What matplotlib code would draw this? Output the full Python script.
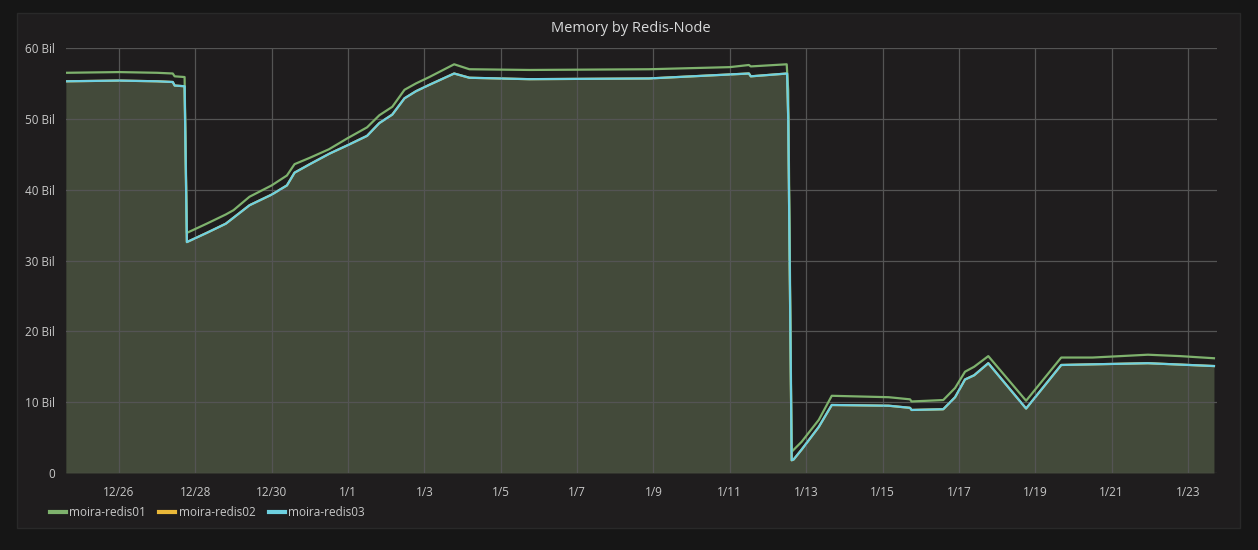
import numpy as np
import matplotlib.pyplot as plt
from matplotlib.patches import Rectangle

# days counted from 12/26 00:00
days01 = [-1.39, 0.0, 1.0, 1.41, 1.46, 1.72, 1.78, 2.3, 2.8, 3.0, 3.42, 4.0, 4.4, 4.6, 5.0, 5.5, 6.0, 6.5,
          6.82, 7.16, 7.48, 7.78, 8.13, 8.78, 9.18, 10.75, 13.88, 16.0, 16.50, 16.55, 17.49, 17.53, 17.62,
          17.88, 18.33, 18.67, 20.16, 20.72, 20.76, 21.59, 21.9, 22.16, 22.4, 22.77, 23.76, 24.68, 25.5,
          26.95, 27.8, 28.68]
redis01 = [56.5, 56.6, 56.5, 56.4, 56.0, 55.9, 33.9, 35.2, 36.5, 37.1, 39.0, 40.6, 42.0, 43.6, 44.5, 45.7,
           47.3, 48.8, 50.5, 51.7, 54.1, 55.0, 55.9, 57.7, 57.0, 56.9, 57.0, 57.3, 57.6, 57.4, 57.7, 54.0,
           3.0, 4.4, 7.5, 10.9, 10.7, 10.4, 10.1, 10.3, 12.0, 14.3, 15.0, 16.5, 10.2, 16.3, 16.3, 16.7,
           16.5, 16.2]

days03 = [-1.39, 0.0, 1.0, 1.41, 1.46, 1.72, 1.78, 2.3, 2.8, 3.42, 4.0, 4.4, 4.6, 5.0, 5.52, 6.0, 6.5, 6.82,
          7.16, 7.48, 7.78, 8.13, 8.78, 9.18, 10.75, 13.88, 16.50, 16.55, 17.50, 17.53, 17.62, 17.67,
          17.88, 18.33, 18.67, 20.16, 20.72, 20.76, 21.59, 21.9, 22.16, 22.4, 22.77, 23.76, 24.68, 26.95,
          28.68]
redis03 = [55.3, 55.4, 55.3, 55.2, 54.7, 54.6, 32.6, 33.9, 35.2, 37.8, 39.3, 40.6, 42.4, 43.6, 45.1, 46.3,
           47.6, 49.4, 50.6, 52.9, 53.9, 54.8, 56.4, 55.8, 55.6, 55.7, 56.4, 56.0, 56.4, 50.0, 1.8, 1.9,
           3.3, 6.5, 9.6, 9.5, 9.2, 8.9, 9.0, 10.7, 13.2, 13.8, 15.5, 9.1, 15.25, 15.5, 15.1]

# redis02 sits under redis03 everywhere
days02 = days03
redis02 = redis03

tick_days = [0, 2, 4, 6, 8, 10, 12, 14, 16, 18, 20, 22, 24, 26, 28]
tick_labels = ["12/26", "12/28", "12/30", "1/1", "1/3", "1/5", "1/7", "1/9", "1/11",
               "1/13", "1/15", "1/17", "1/19", "1/21", "1/23"]

plt.rcParams['font.family'] = ['Open Sans', 'DejaVu Sans']

fig = plt.figure(figsize=(12.58, 5.5), dpi=100)
fig.patch.set_facecolor('#161616')
panel = Rectangle((17/1258, 1-528/550), (1240-17)/1258, (528-13)/550, transform=fig.transFigure,
                  facecolor='#1f1d1e', edgecolor='#292929', lw=1, zorder=-5)
fig.patches.append(panel)

ax = fig.add_axes([66/1258, 1-473/550, (1217-66)/1258, (473-48)/550])
ax.set_facecolor('#1f1d1e')

ax.fill_between(days03, redis03, 0, color='#434a3a', lw=0, zorder=1)
ax.plot(days01, redis01, color='#7eb26d', lw=1.6, label='moira-redis01', zorder=3)
ax.plot(days02, redis02, color='#eab839', lw=1.6, label='moira-redis02', zorder=2)
ax.plot(days03, redis03, color='#6ed0e0', lw=1.6, label='moira-redis03', zorder=4)

ax.set_xlim(-1.386, 28.76)
ax.set_ylim(0, 60)
ax.set_xticks(tick_days)
ax.set_xticklabels(tick_labels)
ax.set_yticks([0, 10, 20, 30, 40, 50, 60])
ax.set_yticklabels(["0", "10 Bil", "20 Bil", "30 Bil", "40 Bil", "50 Bil", "60 Bil"])
ax.grid(True, color='#545454', lw=0.9, zorder=2.5)
ax.set_axisbelow(False)
for s in ax.spines.values():
    s.set_visible(False)
ax.tick_params(length=0, colors='#c8c8c8', labelsize=8.5)
ax.tick_params(axis='x', pad=9)
ax.tick_params(axis='y', pad=8)

fig.text(631/1258, 1-29/550, "Memory by Redis-Node", ha='center', va='center',
         color='#d8d9da', fontsize=10.5)

leg = fig.legend(loc='center left', bbox_to_anchor=(0.036, 1-513/550), ncol=3, frameon=False,
                 fontsize=8.5, handlelength=1.35, handletextpad=0.3, columnspacing=1.1,
                 borderaxespad=0)
for line in leg.get_lines():
    line.set_linewidth(3)
for t in leg.get_texts():
    t.set_color('#c8c8c8')

fig.savefig('out.png', dpi=100, facecolor=fig.get_facecolor())
